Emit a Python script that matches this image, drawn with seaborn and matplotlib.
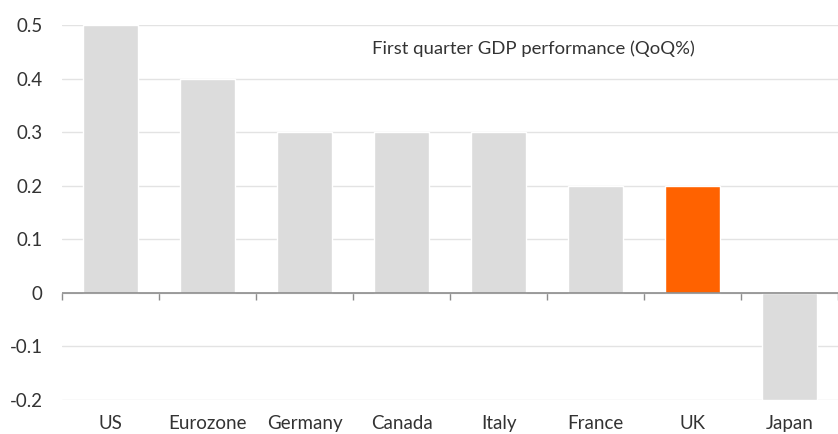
import matplotlib
matplotlib.use("Agg")
import matplotlib.pyplot as plt
import seaborn as sns
import pandas as pd
import numpy as np

categories = ["US", "Eurozone", "Germany", "Canada", "Italy", "France", "UK", "Japan"]
values = [0.5, 0.4, 0.3, 0.3, 0.3, 0.2, 0.2, -0.2]
highlight = ["other", "other", "other", "other", "other", "other", "UK", "other"]
yticks = [-0.2, -0.1, 0, 0.1, 0.2, 0.3, 0.4, 0.5]
ytick_labels = ["-0.2", "-0.1", "0", "0.1", "0.2", "0.3", "0.4", "0.5"]
title = "First quarter GDP performance (QoQ%)"

sns.set_style("white")
plt.rcParams["font.family"] = ["Lato", "DejaVu Sans"]

df = pd.DataFrame({"country": categories, "value": values, "group": highlight})

fig = plt.figure(figsize=(8.38, 4.34), dpi=100)
ax = fig.add_axes([62 / 838, 1 - 400 / 434, 1 - 62 / 838, (400 - 25) / 434])

sns.barplot(data=df, x="country", y="value", hue="group",
            palette={"other": "#dcdcdc", "UK": "#ff6200"},
            width=0.57, dodge=False, legend=False, ax=ax, saturation=1)

ax.set_ylim(-0.2, 0.5)
ax.set_xlim(-0.5, len(categories) - 0.5)
ax.set_yticks(yticks)
ax.set_yticklabels(ytick_labels)
ax.yaxis.grid(True, color="#e3e3e3", linewidth=1)
ax.set_axisbelow(True)
for s in ax.spines.values():
    s.set_visible(False)
ax.axhline(0, color="#8c8c8c", linewidth=1.2, zorder=3)
ax.tick_params(axis="y", length=0, pad=14, labelsize=13.5, labelcolor="#333333")
ax.tick_params(axis="x", length=0, pad=11, labelsize=13.5, labelcolor="#333333")
ax.set_xlabel("")
ax.set_ylabel("")

loc = (0 - (-0.2)) / (0.5 - (-0.2))
sec = ax.secondary_xaxis(loc)
sec.set_xticks(np.arange(len(categories) + 1) - 0.5)
sec.set_xticklabels([])
sec.tick_params(axis="x", direction="out", length=5, color="#8c8c8c", width=1)
sec.spines["bottom"].set_visible(False)

ax.text(2.7, 0.455, title, fontsize=13.3, color="#333333", va="center", ha="left")

fig.savefig("out.png", dpi=100)
